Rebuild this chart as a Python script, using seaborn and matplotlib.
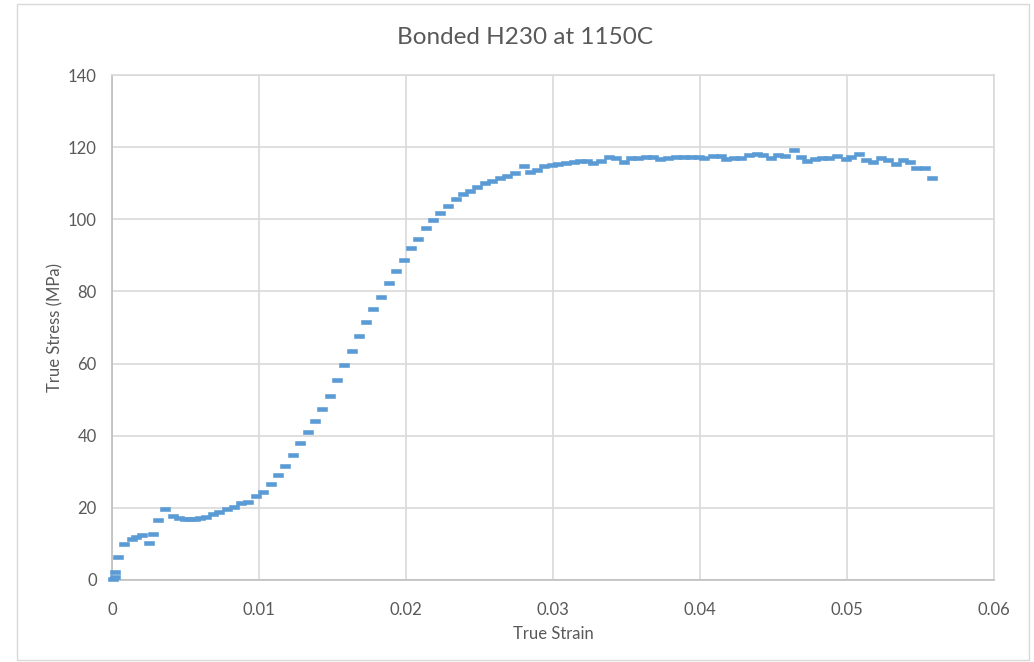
import matplotlib
matplotlib.use("Agg")
import matplotlib.pyplot as plt
import seaborn as sns
import pandas as pd
from matplotlib.patches import Rectangle

# ---- data ----
strain = [0.0001, 0.0002, 0.0002, 0.00043, 0.00084, 0.00134, 0.00163, 0.00204, 0.0025, 0.0028,
          0.00313, 0.00363, 0.00417, 0.00458, 0.00497, 0.0053, 0.00565, 0.0060, 0.0064, 0.00685,
          0.0073, 0.0078, 0.0083, 0.0088, 0.00927, 0.0098, 0.0103, 0.0108, 0.0113, 0.0118,
          0.0123, 0.0128, 0.0133, 0.0138, 0.0143, 0.0148, 0.0153, 0.0158, 0.01635, 0.01678,
          0.0173, 0.01778, 0.0183, 0.01886, 0.0193, 0.01984, 0.02036, 0.02084, 0.02136, 0.02186,
          0.0223, 0.02288, 0.0234, 0.0239, 0.02435, 0.02485, 0.02537, 0.02587, 0.0264, 0.0269,
          0.0274, 0.0280, 0.02843, 0.0289, 0.0294, 0.0299, 0.03036, 0.03086, 0.0314, 0.03184,
          0.0323, 0.03274, 0.03324, 0.0338, 0.0343, 0.0348, 0.0353, 0.0358, 0.0363, 0.0368,
          0.0373, 0.0378, 0.0384, 0.0389, 0.0394, 0.0399, 0.0403, 0.0409, 0.0414, 0.0418,
          0.0423, 0.0428, 0.04335, 0.0439, 0.0443, 0.0448, 0.0453, 0.0458, 0.0464, 0.0469,
          0.0473, 0.0478, 0.0483, 0.0488, 0.0493, 0.0499, 0.0503, 0.0508, 0.0513, 0.0518,
          0.0523, 0.0528, 0.0533, 0.0538, 0.0543, 0.0547, 0.0553, 0.0558]
stress = [0.3, 0.8, 2.3, 6.5, 10.1, 11.3, 11.9, 12.4, 10.3, 12.7,
          16.5, 19.7, 17.7, 17.1, 16.9, 16.8, 16.9, 17.2, 17.6, 18.4,
          18.9, 19.7, 20.3, 21.3, 21.7, 23.3, 24.5, 26.6, 29.1, 31.7,
          34.7, 37.9, 40.9, 44.1, 47.4, 51.0, 55.4, 59.5, 63.6, 67.7,
          71.6, 75.2, 78.5, 82.4, 85.8, 88.8, 92.0, 94.5, 97.6, 99.7,
          101.8, 103.8, 105.5, 106.9, 107.9, 109.0, 110.1, 110.7, 111.4, 112.1,
          112.8, 114.7, 113.1, 113.6, 114.9, 115.1, 115.4, 115.7, 116.0, 116.2,
          116.2, 115.5, 116.2, 117.4, 117.0, 115.8, 117.0, 117.0, 117.4, 117.4,
          116.6, 117.0, 117.3, 117.3, 117.3, 117.3, 116.9, 117.5, 117.5, 116.8,
          117.1, 117.1, 117.8, 118.1, 117.8, 117.1, 117.8, 117.5, 119.2, 117.2,
          116.1, 116.6, 116.9, 116.9, 117.5, 116.6, 117.2, 118.0, 116.4, 115.8,
          116.9, 116.4, 115.4, 116.4, 115.9, 114.3, 114.3, 111.4]
x_ticks = [0, 0.01, 0.02, 0.03, 0.04, 0.05, 0.06]
x_tick_labels = ["0", "0.01", "0.02", "0.03", "0.04", "0.05", "0.06"]
y_ticks = [0, 20, 40, 60, 80, 100, 120, 140]

title = "Bonded H230 at 1150C"
xlabel = "True Strain"
ylabel = "True Stress (MPa)"

df = pd.DataFrame({"strain": strain, "stress": stress})

sns.set_theme(style="white")
plt.rcParams["font.family"] = ["Lato", "DejaVu Sans"]

grid_c = "#D9D9D9"
text_c = "#595959"
blue = "#5B9BD5"

fig = plt.figure(figsize=(10.34, 6.62), dpi=100)
ax = fig.add_axes([112 / 1034, 1 - 580 / 662, (994 - 112) / 1034, (580 - 75) / 662])

# figure border (chart area outline)
fig.patches.append(Rectangle((17 / 1034, 2 / 662), (1029 - 17) / 1034, (658 - 2) / 662,
                             transform=fig.transFigure, fill=False,
                             edgecolor="#D9D9D9", linewidth=1.0))

dash = [(-1, -0.5), (1, -0.5), (1, 0.5), (-1, 0.5), (-1, -0.5)]
sns.scatterplot(data=df, x="strain", y="stress", ax=ax, marker=dash, s=44,
                color=blue, edgecolor=blue, linewidth=0.4, zorder=3, clip_on=False)

ax.set_xlim(0, 0.06)
ax.set_ylim(0, 140)
ax.set_xticks(x_ticks)
ax.set_xticklabels(x_tick_labels)
ax.set_yticks(y_ticks)
ax.grid(True, color=grid_c, linewidth=1.2)
ax.set_axisbelow(True)
for side, sp in ax.spines.items():
    sp.set_visible(True)
    sp.set_color(grid_c)
    sp.set_linewidth(1.2)
ax.spines["left"].set_color("#BFBFBF")
ax.spines["bottom"].set_color("#BFBFBF")
ax.tick_params(axis="x", length=0, labelsize=12, colors=text_c, pad=16)
ax.tick_params(axis="y", length=0, labelsize=12, colors=text_c, pad=11)

ax.set_xlabel(xlabel, fontsize=12, color=text_c, labelpad=5.5)
ax.set_ylabel(ylabel, fontsize=12, color=text_c, labelpad=3)
fig.text(525 / 1034, 1 - 38 / 662, title, ha="center", va="center",
         fontsize=17.5, color=text_c)

fig.savefig("out.png", dpi=100)
